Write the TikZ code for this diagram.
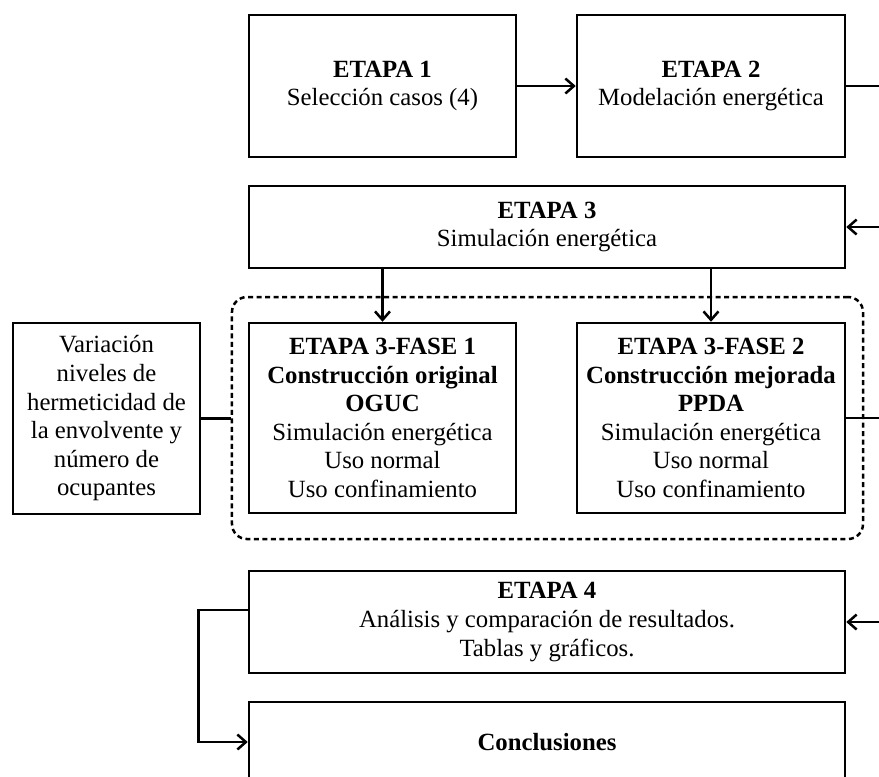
\documentclass[tikz,border=0pt]{standalone}
\usepackage{fontspec}
\setmainfont{Liberation Serif}
\usetikzlibrary{arrows.meta}
\begin{document}
\begin{tikzpicture}[x=0.4pt,y=-0.4pt,
  box/.style={draw,line width=1pt,inner sep=0pt,align=center,
    font=\fontsize{9.9}{11.44}\selectfont},
  conn/.style={line width=1pt},
  arr/.style={conn,-{Straight Barb[length=3.4pt,width=6pt]}},
  grp/.style={draw,line width=1pt,rounded corners=6pt,
    dash pattern=on 2pt off 1.4pt,inner sep=0pt}]
\useasboundingbox (0,0) rectangle (879,776);
\clip (0,0) rectangle (879,776);

\node[grp,minimum width=252.4pt,minimum height=96.8pt] (grp) at (547.5,418) {};

\node[box,minimum width=106.8pt,minimum height=56.8pt] (e1) at (382.5,86)
  {\textbf{ETAPA 1}\\Selección casos (4)};
\node[box,minimum width=107.2pt,minimum height=56.8pt] (e2) at (711,86)
  {\textbf{ETAPA 2}\\Modelación energética};
\node[box,minimum width=238.4pt,minimum height=32.8pt] (e3) at (547,227)
  {\textbf{ETAPA 3}\\Simulación energética};
\node[box,minimum width=106.8pt,minimum height=76pt] (f1) at (382.5,418)
  {\textbf{ETAPA 3-FASE 1}\\\textbf{Construcción original}\\\textbf{OGUC}\\Simulación energética\\Uso normal\\Uso confinamiento};
\node[box,minimum width=107.2pt,minimum height=76pt] (f2) at (711,418)
  {\textbf{ETAPA 3-FASE 2}\\\textbf{Construcción mejorada}\\\textbf{PPDA}\\Simulación energética\\Uso normal\\Uso confinamiento};
\node[box,minimum width=74.8pt,minimum height=76.4pt] (var) at (106.5,418.5)
  {Variación\\niveles de\\hermeticidad de\\la envolvente y\\número de\\ocupantes};
\node[box,minimum width=238.4pt,minimum height=40.8pt] (e4) at (547,622)
  {\textbf{ETAPA 4}\\Análisis y comparación de resultados.\\Tablas y gráficos.};
\node[box,minimum width=238.4pt,minimum height=32pt] (conc) at (547,742)
  {\textbf{Conclusiones}};

\coordinate (r2) at (879,86);
\coordinate (r3) at (879,227);
\coordinate (rf) at (879,418);
\coordinate (r4) at (879,622);

\draw[arr] (e1) -- (e2);
\draw[conn] (e2.east) -- (r2);
\draw[arr] (r3) -- (e3.east);
\draw[arr] (f1.north |- e3.south) -- (f1.north);
\draw[arr] (f2.north |- e3.south) -- (f2.north);
\draw[conn] (var.east) -- (grp.west |- var.east);
\draw[conn] (f2.east) -- (rf);
\draw[arr] (r4) -- (e4.east);
\draw[arr] ([yshift=4.8pt]e4.west) -- ++(-49,0) |- (conc.west);
\end{tikzpicture}
\end{document}
